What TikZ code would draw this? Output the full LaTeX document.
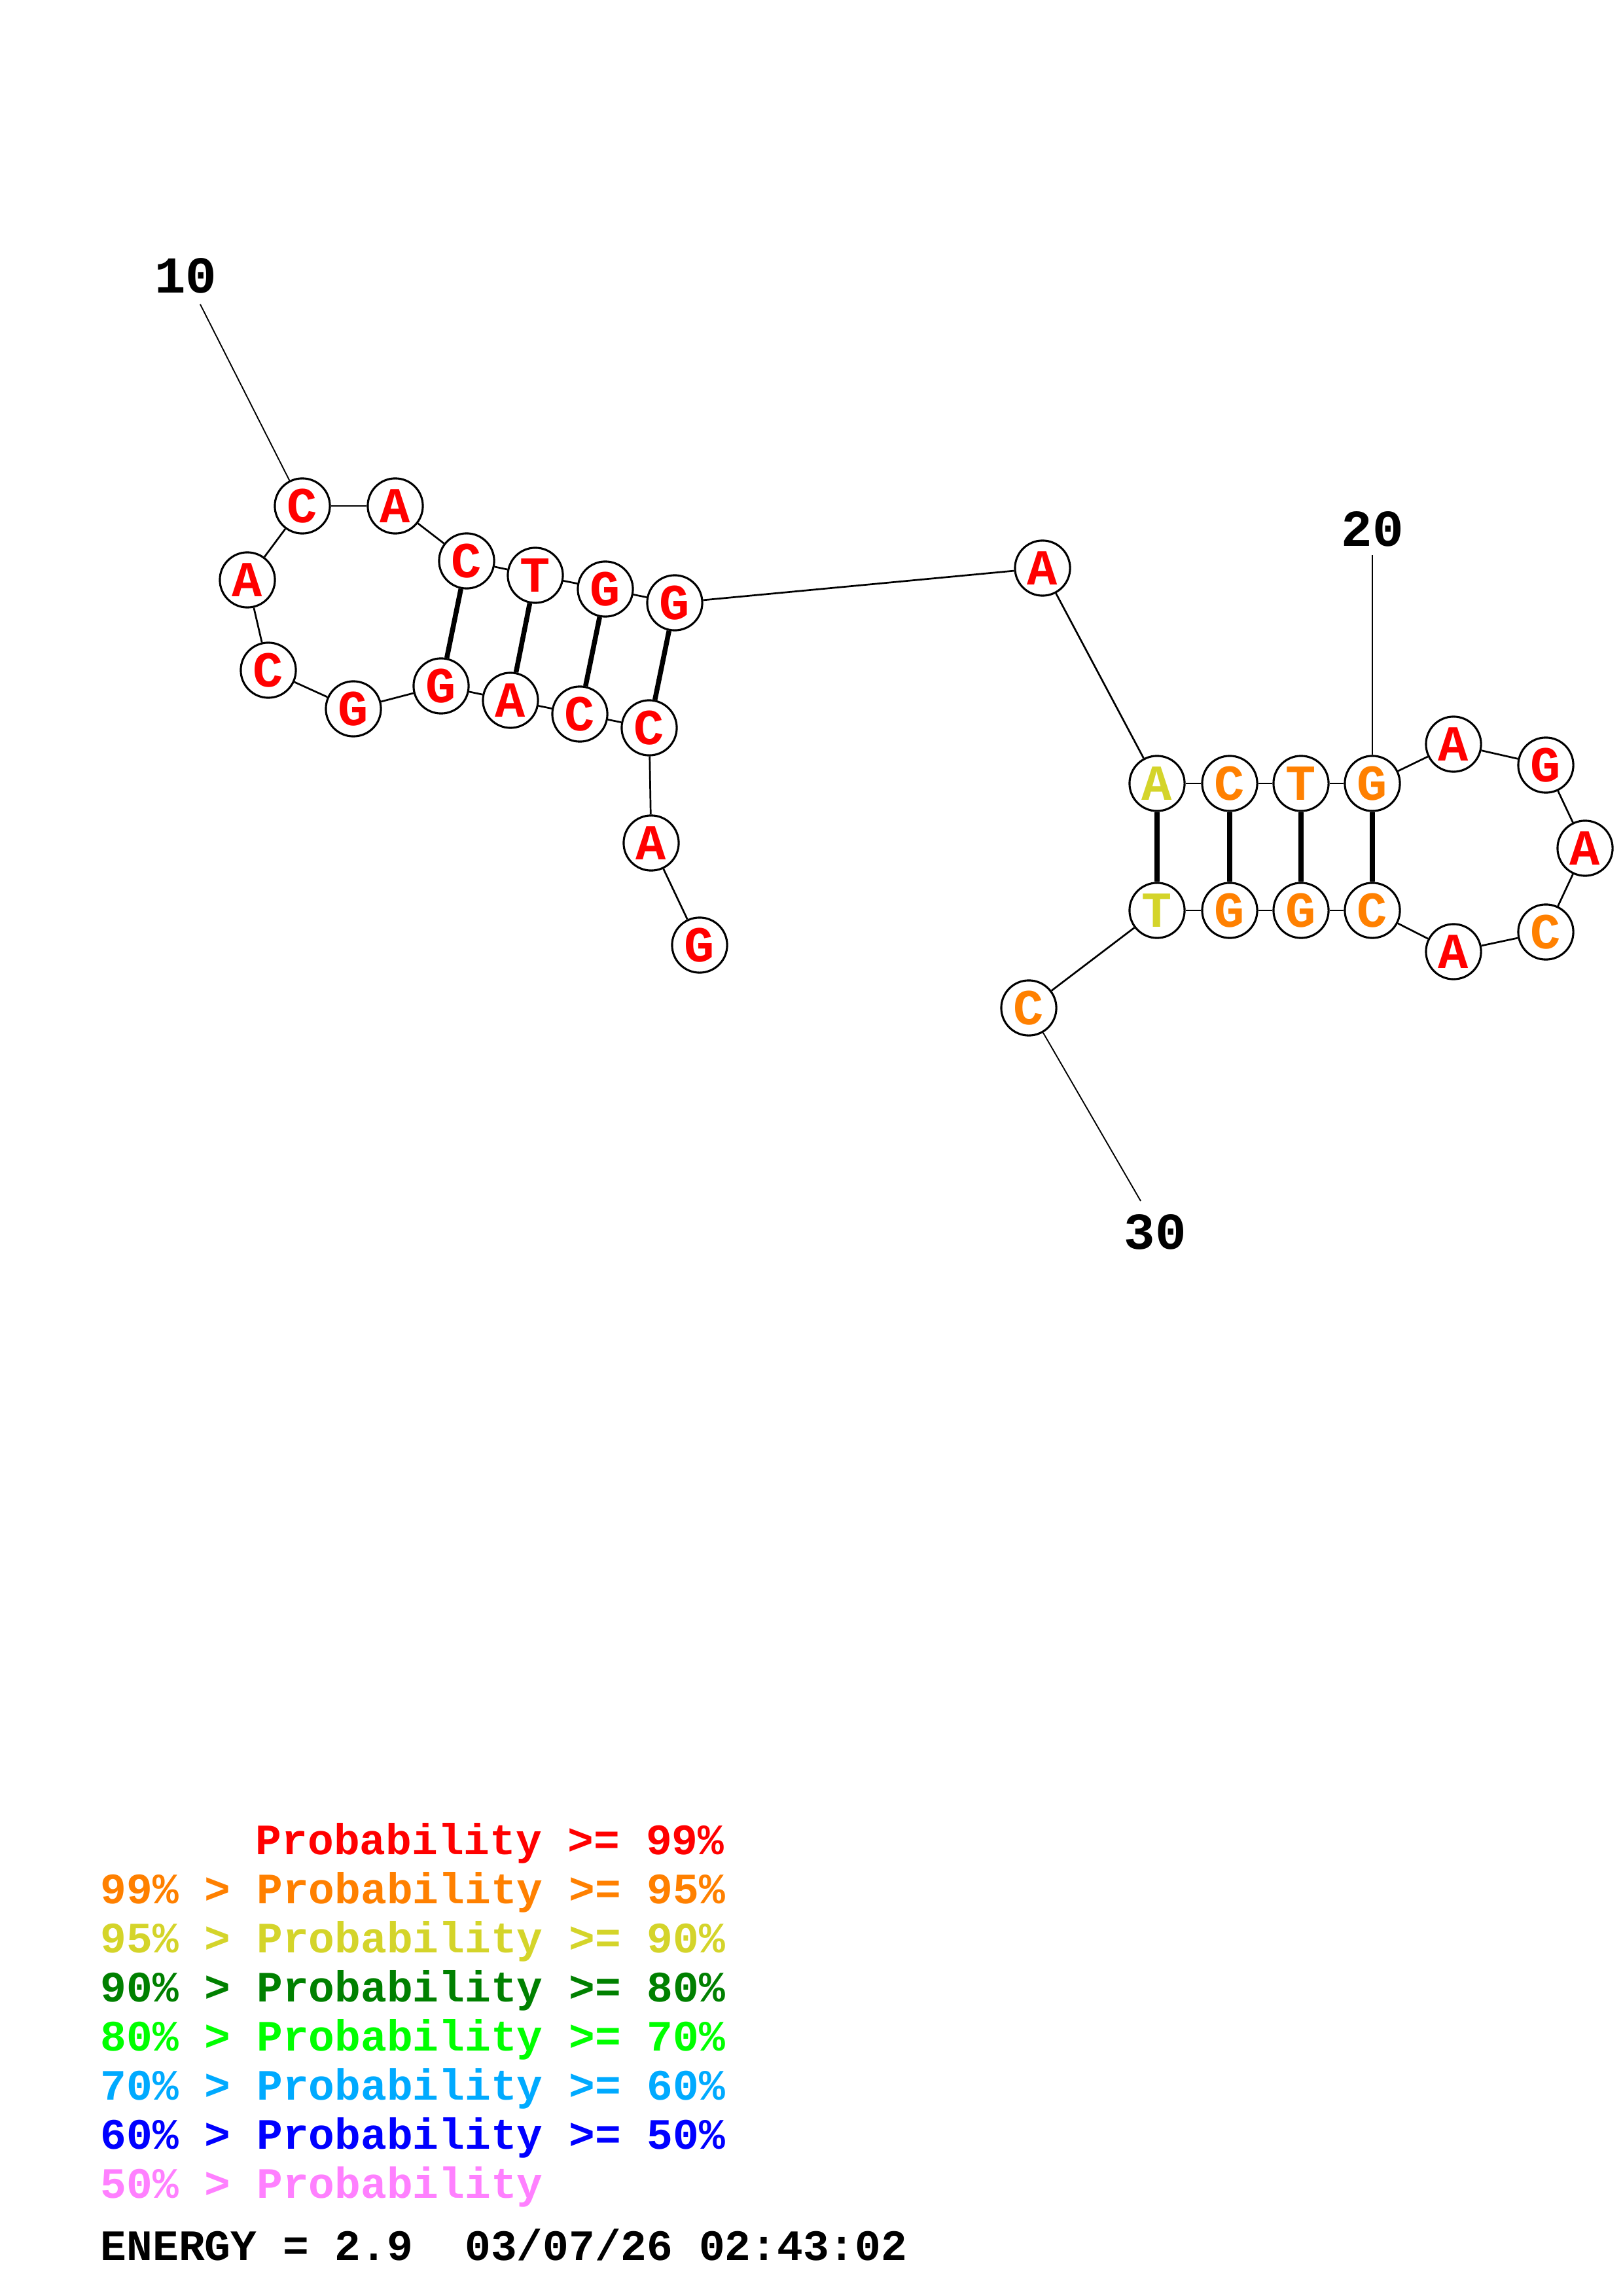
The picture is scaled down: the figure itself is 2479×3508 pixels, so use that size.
\documentclass[tikz,border=0pt]{standalone}
\usepackage{fontspec}
\setmainfont{Liberation Mono}
\definecolor{pRed}{RGB}{255,0,0}
\definecolor{pOrange}{RGB}{255,128,0}
\definecolor{pYellow}{RGB}{212,212,42}
\definecolor{pDkGreen}{RGB}{0,128,0}
\definecolor{pGreen}{RGB}{0,255,0}
\definecolor{pLtBlue}{RGB}{0,170,255}
\definecolor{pBlue}{RGB}{0,0,255}
\definecolor{pPink}{RGB}{255,128,255}
\begin{document}
\begin{tikzpicture}[x=0.24pt,y=-0.24pt,
  nt/.style={circle,draw,fill=white,line width=0.75pt,minimum size=20.2pt,inner sep=0pt,
     font=\fontsize{18.5}{18}\selectfont\bfseries},
  bb/.style={line width=0.65pt},
  pr/.style={line width=1.8pt},
  lead/.style={line width=0.45pt},
  num/.style={font=\fontsize{19}{19}\selectfont\bfseries},
  leg/.style={anchor=base west,inner sep=0pt,font=\fontsize{15.9}{16}\selectfont\bfseries}]
\useasboundingbox (0,0) rectangle (2479,3508);
% nucleotides
\node[nt,text=pRed] (n1) at (1069,1444) {G};
\node[nt,text=pRed] (n2) at (995,1288) {A};
\node[nt,text=pRed] (n3) at (992,1112) {C};
\node[nt,text=pRed] (n4) at (886,1091) {C};
\node[nt,text=pRed] (n5) at (780,1070) {A};
\node[nt,text=pRed] (n6) at (674,1048) {G};
\node[nt,text=pRed] (n7) at (540,1083) {G};
\node[nt,text=pRed] (n8) at (410,1024) {C};
\node[nt,text=pRed] (n9) at (378,886) {A};
\node[nt,text=pRed] (n10) at (462,773) {C};
\node[nt,text=pRed] (n11) at (604,773) {A};
\node[nt,text=pRed] (n12) at (713,857) {C};
\node[nt,text=pRed] (n13) at (818,879) {T};
\node[nt,text=pRed] (n14) at (925,900) {G};
\node[nt,text=pRed] (n15) at (1031,921) {G};
\node[nt,text=pRed] (n16) at (1593,868) {A};
\node[nt,text=pYellow] (n17) at (1768,1197) {A};
\node[nt,text=pOrange] (n18) at (1879,1197) {C};
\node[nt,text=pOrange] (n19) at (1988,1197) {T};
\node[nt,text=pOrange] (n20) at (2097,1197) {G};
\node[nt,text=pRed] (n21) at (2221,1137) {A};
\node[nt,text=pRed] (n22) at (2362,1169) {G};
\node[nt,text=pRed] (n23) at (2422,1296) {A};
\node[nt,text=pOrange] (n24) at (2362,1424) {C};
\node[nt,text=pRed] (n25) at (2221,1454) {A};
\node[nt,text=pOrange] (n26) at (2097,1391) {C};
\node[nt,text=pOrange] (n27) at (1988,1391) {G};
\node[nt,text=pOrange] (n28) at (1879,1391) {G};
\node[nt,text=pYellow] (n29) at (1768,1391) {T};
\node[nt,text=pOrange] (n30) at (1572,1540) {C};
% backbone
\foreach \a/\b in {1/2,2/3,3/4,4/5,5/6,6/7,7/8,8/9,9/10,10/11,11/12,12/13,13/14,14/15,15/16,16/17,17/18,18/19,19/20,20/21,21/22,22/23,23/24,24/25,25/26,26/27,27/28,28/29,29/30}
  \draw[bb] (n\a) -- (n\b);
% pairs
\foreach \a/\b in {12/6,13/5,14/4,15/3,17/29,18/28,19/27,20/26}
  \draw[pr] (n\a) -- (n\b);
% numbering
\coordinate (e10) at (306,465);
\coordinate (e20) at (2097,848);
\coordinate (e30) at (1743,1835);
\draw[lead] (n10) -- (e10);
\draw[lead] (n20) -- (e20);
\draw[lead] (n30) -- (e30);
\node[num] (l10) at (284,421) {10};
\node[num] (l20) at (2097,808) {20};
\node[num] (l30) at (1765,1882) {30};
% legend
\node[leg,text=pRed] (g1) at (390,2833) {Probability >= 99\%};
\node[leg,text=pOrange] (g2) at (153,2908) {99\% > Probability >= 95\%};
\node[leg,text=pYellow] (g3) at (153,2983) {95\% > Probability >= 90\%};
\node[leg,text=pDkGreen] (g4) at (153,3058) {90\% > Probability >= 80\%};
\node[leg,text=pGreen] (g5) at (153,3133) {80\% > Probability >= 70\%};
\node[leg,text=pLtBlue] (g6) at (153,3208) {70\% > Probability >= 60\%};
\node[leg,text=pBlue] (g7) at (153,3283) {60\% > Probability >= 50\%};
\node[leg,text=pPink] (g8) at (153,3358) {50\% > Probability};
\node[leg,text=black] (en) at (153,3453) {ENERGY = 2.9\ \ 03/07/26 02:43:02};
\end{tikzpicture}
\end{document}
